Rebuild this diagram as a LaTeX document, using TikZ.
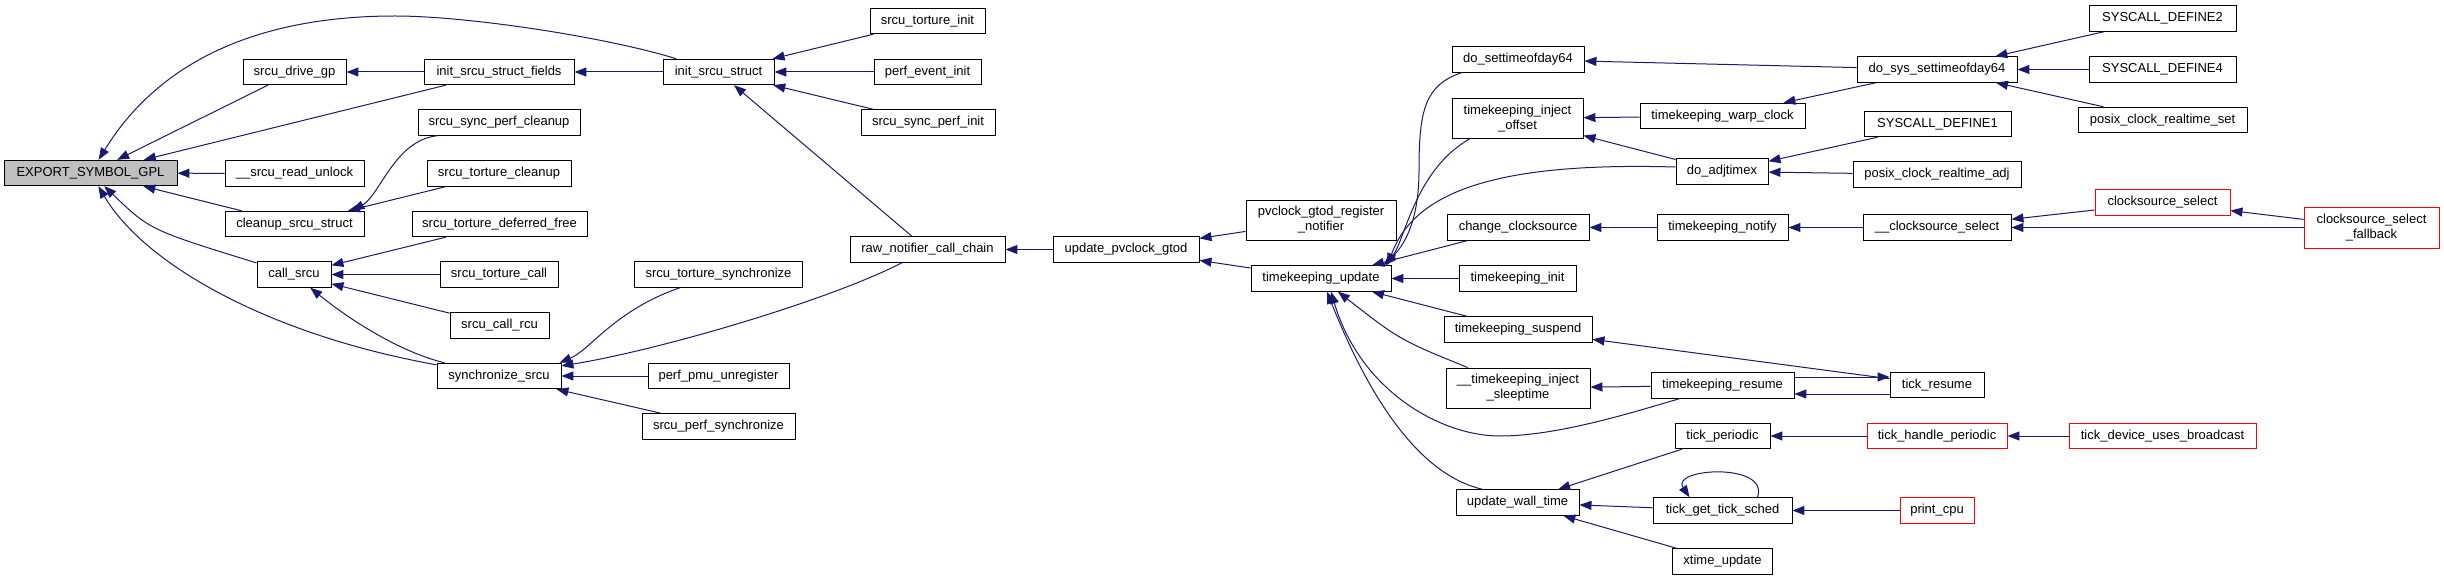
\documentclass[tikz,border=0pt]{standalone}
\usepackage{fontspec}
\setmainfont{Liberation Sans}
\usetikzlibrary{arrows.meta,calc}
\definecolor{edgeblue}{HTML}{191970}
\definecolor{nodegray}{HTML}{BFBFBF}
\definecolor{nodered}{HTML}{FF0000}
\begin{document}
\begin{tikzpicture}[x=1pt,y=-1pt,
  box/.style={draw=black, fill=white, line width=0.9pt, inner sep=0pt, minimum height=25.5pt, font=\fontsize{13}{15}\selectfont, align=center},
  two/.style={minimum height=40pt},
  redbox/.style={draw=nodered},
  e/.style={draw=edgeblue, line width=1pt, {Triangle[length=12pt,width=9pt]}-}
]
\path[use as bounding box] (0,0) rectangle (2444,580);

\node[box,fill=nodegray,minimum width=173pt] (exp) at (90.5,173) {EXPORT\_SYMBOL\_GPL};
\node[box,minimum width=103pt] (sdg) at (294.5,72) {srcu\_drive\_gp};
\node[box,minimum width=150pt] (isf) at (499,72) {init\_srcu\_struct\_fields};
\node[box,minimum width=162pt] (sspc) at (499,122.5) {srcu\_sync\_perf\_cleanup};
\node[box,minimum width=139pt] (sru) at (294.5,173.5) {\_\_srcu\_read\_unlock};
\node[box,minimum width=144pt] (stc) at (499,173.5) {srcu\_torture\_cleanup};
\node[box,minimum width=139pt] (css) at (294.5,224) {cleanup\_srcu\_struct};
\node[box,minimum width=175pt] (stdf) at (499.5,224) {srcu\_torture\_deferred\_free};
\node[box,minimum width=74pt] (csr) at (294,274.5) {call\_srcu};
\node[box,minimum width=118pt] (stcall) at (499,274.5) {srcu\_torture\_call};
\node[box,minimum width=99pt] (scr) at (499.5,325.5) {srcu\_call\_rcu};
\node[box,minimum width=124pt] (sync) at (499,376) {synchronize\_srcu};
\node[box,minimum width=115pt] (sti) at (927.5,21) {srcu\_torture\_init};
\node[box,minimum width=111pt] (iss) at (718.5,72) {init\_srcu\_struct};
\node[box,minimum width=107pt] (pei) at (927.5,72) {perf\_event\_init};
\node[box,minimum width=134pt] (spi) at (928,122.5) {srcu\_sync\_perf\_init};
\node[box,minimum width=155pt] (rnc) at (927.5,249.5) {raw\_notifier\_call\_chain};
\node[box,minimum width=146pt] (upg) at (1126,249.5) {update\_pvclock\_gtod};
\node[box,minimum width=168pt] (sts) at (718.5,274.5) {srcu\_torture\_synchronize};
\node[box,minimum width=141pt] (ppu) at (718.5,376) {perf\_pmu\_unregister};
\node[box,minimum width=153pt] (sps) at (718.5,426.5) {srcu\_perf\_synchronize};
\node[box,minimum width=132pt] (dstd) at (1518,59.5) {do\_settimeofday64};
\node[box,two,minimum width=131pt] (tio) at (1517.5,118.5) {timekeeping\_inject\\\_offset};
\node[box,minimum width=165pt] (twc) at (1722.5,116) {timekeeping\_warp\_clock};
\node[box,minimum width=92pt] (dadj) at (1722,171.5) {do\_adjtimex};
\node[box,two,minimum width=150pt] (pgrn) at (1321,220) {pvclock\_gtod\_register\\\_notifier};
\node[box,minimum width=142pt] (chcs) at (1518,227.5) {change\_clocksource};
\node[box,minimum width=131pt] (tkn) at (1722.5,227.5) {timekeeping\_notify};
\node[box,minimum width=140pt] (tku) at (1321,278.5) {timekeeping\_update};
\node[box,minimum width=117pt] (tki) at (1517.5,278.5) {timekeeping\_init};
\node[box,minimum width=148pt] (tks) at (1518,329.5) {timekeeping\_suspend};
\node[box,two,minimum width=144pt] (ttis) at (1518,388) {\_\_timekeeping\_inject\\\_sleeptime};
\node[box,minimum width=143pt] (tkr) at (1722.5,385.5) {timekeeping\_resume};
\node[box,minimum width=95pt] (tp) at (1722.5,436) {tick\_periodic};
\node[box,minimum width=123pt] (uwt) at (1517.5,502.5) {update\_wall\_time};
\node[box,minimum width=139pt] (tgts) at (1722.5,510.5) {tick\_get\_tick\_sched};
\node[box,minimum width=100pt] (xu) at (1722.5,561.5) {xtime\_update};
\node[box,minimum width=147pt] (sd2) at (2162.5,18.5) {SYSCALL\_DEFINE2};
\node[box,minimum width=160pt] (dsst) at (1937,69.5) {do\_sys\_settimeofday64};
\node[box,minimum width=147pt] (sd4) at (2162.5,69.5) {SYSCALL\_DEFINE4};
\node[box,minimum width=169pt] (pcrs) at (2162.5,120) {posix\_clock\_realtime\_set};
\node[box,minimum width=147pt] (sd1) at (1937.5,124) {SYSCALL\_DEFINE1};
\node[box,minimum width=168pt] (pcra) at (1937,174.5) {posix\_clock\_realtime\_adj};
\node[box,redbox,minimum width=135pt] (cs) at (2162.5,202.5) {clocksource\_select};
\node[box,minimum width=148pt] (ucs) at (1937,227.5) {\_\_clocksource\_select};
\node[box,redbox,two,minimum width=135pt,minimum height=41pt] (csf) at (2371.5,227.5) {clocksource\_select\\\_fallback};
\node[box,minimum width=94pt] (tres) at (1937,385) {tick\_resume};
\node[box,redbox,minimum width=140pt] (thp) at (1937,436) {tick\_handle\_periodic};
\node[box,redbox,minimum width=187pt] (tdub) at (2162.5,436) {tick\_device\_uses\_broadcast};
\node[box,redbox,minimum width=74pt] (pcpu) at (1937,510.5) {print\_cpu};

\draw[e] (exp) .. controls (160,60) and (260,16) .. (395,16) .. controls (470,16) and (610,38) .. (iss);
\draw[e] (exp) -- (sdg);
\draw[e] (exp) -- (isf);
\draw[e] (exp) -- (sru);
\draw[e] (exp) -- (css);
\draw[e] (exp) .. controls (150,230) .. (csr);
\draw[e] (exp) .. controls (145,265) and (270,335) .. (sync);
\draw[e] (sdg) -- (isf);
\draw[e] (isf) -- (iss);
\draw[e] (iss) -- (sti);
\draw[e] (iss) -- (pei);
\draw[e] (iss) -- (spi);
\draw[e] (iss) -- (rnc);
\draw[e] ([xshift=-12pt]css.north east) .. controls (380,195) and (395,140) .. ([xshift=20pt]sspc.south west);
\draw[e] (css) -- (stc);
\draw[e] (csr) -- (stdf);
\draw[e] (csr) -- (stcall);
\draw[e] (csr) -- (scr);
\draw[e] (csr) .. controls (350,320) and (400,352) .. (sync);
\draw[e] ([xshift=-2pt]sync.north east) .. controls (590,350) and (615,310) .. (sts);
\draw[e] (sync) .. controls (660,350) and (830,300) .. (rnc);
\draw[e] (sync) -- (ppu);
\draw[e] (sync) -- (sps);
\draw[e] (rnc) -- (upg);
\draw[e] (upg) -- (pgrn);
\draw[e] (upg) -- (tku);
\draw[e] ([xshift=-8pt]tku.north east) .. controls (1410,240) and (1419,210) .. (1419,170) .. controls (1419,110) and (1425,85) .. ([xshift=10pt]dstd.south west);
\draw[e] ([xshift=-6pt]tku.north east) .. controls (1405,240) and (1415,170) .. ([xshift=18pt]tio.south west);
\draw[e] ([xshift=-4pt]tku.north east) .. controls (1415,190) and (1500,162) .. ([yshift=4.5pt]dadj.west);
\draw[e] (tku) -- (chcs);
\draw[e] (tku) -- (tki);
\draw[e] (tku) -- (tks);
\draw[e] (tku) .. controls (1400,340) .. (ttis);
\draw[e] ([xshift=10pt]tku.south) .. controls (1360,390) and (1440,436) .. (1500,436) .. controls (1560,436) and (1640,410) .. ([xshift=29pt]tkr.south west);
\draw[e] ([xshift=6pt]tku.south) .. controls (1370,400) and (1420,475) .. ([xshift=27pt]uwt.north west);
\draw[e] (dstd) -- (dsst);
\draw[e] (tio) -- (twc);
\draw[e] (tio) -- (dadj);
\draw[e] (twc) -- (dsst);
\draw[e] (dadj) -- (sd1);
\draw[e] (dadj) -- (pcra);
\draw[e] (chcs) -- (tkn);
\draw[e] (tkn) -- (ucs);
\draw[e] (dsst) -- (sd2);
\draw[e] (dsst) -- (sd4);
\draw[e] (dsst) -- (pcrs);
\draw[e] (ucs) -- (cs);
\draw[e] (ucs) -- (csf);
\draw[e] (cs) -- (csf);
\draw[e] (tks) -- (tres);
\draw[e] (ttis) -- (tkr);
\draw[e] ([yshift=8pt]tres.west) -- ([yshift=8.5pt]tkr.east);
\draw[e] ([yshift=-8.5pt]tkr.east) -- ([yshift=-9pt]tres.west);
\draw[e] (uwt) -- (tp);
\draw[e] (uwt) -- (tgts);
\draw[e] (uwt) -- (xu);
\draw[e] ([xshift=37pt]tgts.north west) .. controls (1670,468) and (1770,462) .. ([xshift=-35pt]tgts.north east);
\draw[e] (tgts) -- (pcpu);
\draw[e] (tp) -- (thp);
\draw[e] (thp) -- (tdub);
\end{tikzpicture}
\end{document}
